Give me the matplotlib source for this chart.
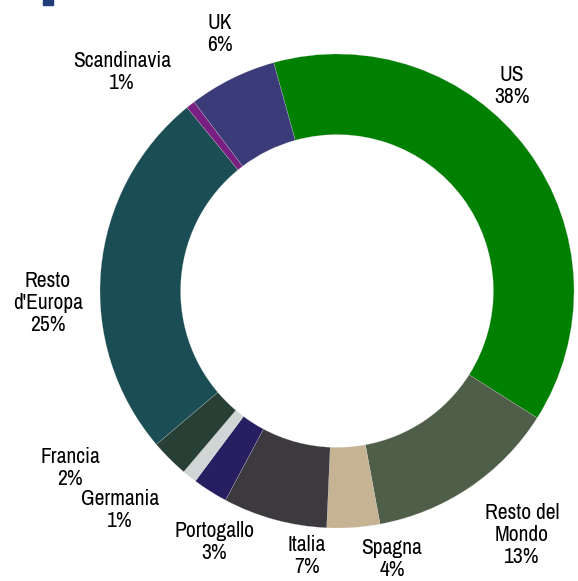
import matplotlib.pyplot as plt
import matplotlib.patches as mpatches
from matplotlib import font_manager

# prefer a condensed face if one is installed
names = sorted({f.name for f in font_manager.fontManager.ttflist})
narrow = [n for n in names if 'Narrow' in n or 'Condensed' in n]
plt.rcParams['font.family'] = narrow[:1] + ['Liberation Sans', 'DejaVu Sans']
plt.rcParams['font.stretch'] = 'condensed'

regions = ['US', 'Resto del\nMondo', 'Spagna', 'Italia', 'Portogallo', 'Germania',
           'Francia', 'Resto\nd\'Europa', 'Scandinavia', 'UK']
shares = [38.3, 13.1, 3.6, 7.1, 2.4, 1.0, 2.6, 25.3, 0.6, 6.0]
pct_labels = ['38%', '13%', '4%', '7%', '3%', '1%', '2%', '25%', '1%', '6%']
colors = ['#008000', '#4f5e48', '#c5b393', '#3d3a3f', '#271f62', '#d0d5d5',
          '#283f35', '#1b4e54', '#7a1f82', '#3c3b7a']

W, H = 578, 581
fig = plt.figure(figsize=(W / 100, H / 100), dpi=100)
ax = fig.add_axes([0, 0, 1, 1])

cx, cy, R = 337, H - 291, 237
ax.pie(shares, colors=colors, startangle=105.5, counterclock=False,
       center=(cx, cy), radius=R, frame=True,
       wedgeprops=dict(width=R * 0.34, edgecolor='#d8d8d8', linewidth=0.15))
ax.set_xlim(0, W); ax.set_ylim(0, H)
ax.set_aspect('equal'); ax.axis('off')

# label anchor points (pixels from top-left)
label_pos = [(512, 86), (522, 535), (392, 559), (307, 556), (214, 542),
             (120, 510), (70, 468), (48, 303), (122, 72), (220, 34)]
for name, pct, (x, y) in zip(regions, pct_labels, label_pos):
    ax.text(x, H - y, f"{name}\n{pct}", ha='center', va='center',
            fontsize=15.5 if narrow else 13, linespacing=1.15, color='black')

# small header mark cut off at the top edge
fig.patches.append(mpatches.Rectangle((43 / W, 1 - 5 / H), 10 / W, 5 / H,
                                      transform=fig.transFigure,
                                      color='#1f3e78'))

fig.savefig('out.png', dpi=100)
